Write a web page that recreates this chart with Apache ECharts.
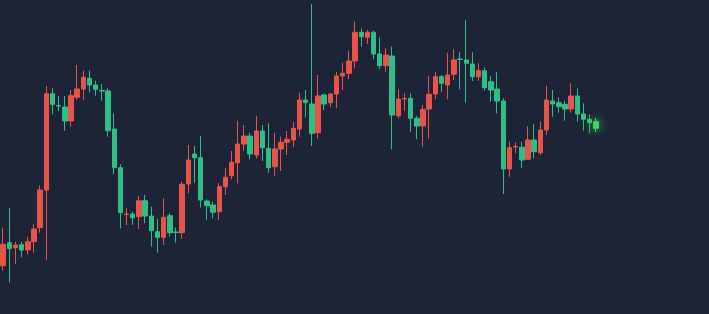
<!DOCTYPE html>
<html>
<head>
<meta charset="utf-8">
<style>
html,body{margin:0;padding:0;background:#1d2438;}
#chart{width:709px;height:314px;}
</style>
<script src="https://cdn.jsdelivr.net/npm/echarts@6/dist/echarts.min.js"></script>
</head>
<body>
<div id="chart"></div>
<script>
const categories = [1,2,3,4,5,6,7,8,9,10,11,12,13,14,15,16,17,18,19,20,21,22,23,24,25,26,27,28,29,30,31,32,33,34,35,36,37,38,39,40,41,42,43,44,45,46,47,48,49,50,51,52,53,54,55,56,57,58,59,60,61,62,63,64,65,66,67,68,69,70,71,72,73,74,75,76,77,78,79,80,81,82,83,84,85,86,87,88,89,90,91,92,93,94,95,96,97];

const openValues = [48.3,71.3,66.3,69.3,64,72.3,86.3,124,220.3,208.5,207,193,216.7,225,235.7,229,223.5,223,185,146.3,99.5,100,97.3,113.3,98,82.3,76.7,98.3,82,81.3,130,160,156.3,113,109,102.3,127.3,138.3,151.3,170,178,159,183,165.7,147.3,165,171.7,174,185,214,210,181.3,219,211.3,220,238,240.7,253,281.7,276.7,281.7,260,248.3,258,198.3,215,215.7,195.7,188,205,220,237.3,229,239.7,255,254,250,237.3,243.3,232.3,225,213,145,167,166.7,154.7,174,161.3,184,213,211.3,209.7,205,218,200,194.7,192.3];
const closeValues = [69.7,65.3,69,64,72.3,85,124,220.3,209.7,208,193,218.3,225,236.7,229,224.7,223,183.3,146.3,101.3,100,96.3,113.3,98,83.3,76.7,96.7,81.3,81.5,129.7,154,156.3,114,108.3,101.7,127.3,136.7,151.7,170,178,160,183,166.3,146.3,165,171.7,174.7,185.7,214,211.3,180.7,218,210,220,238,240.7,253,281.7,277.3,281.7,260,248.3,259,199,215,215.5,195.7,188,204.7,219.7,237.3,230.7,239,254,254.5,250.7,237.3,243.3,226.3,224,213,145,166.3,167.5,154,174,162.3,184,214,210,207.3,205,218,200,194.7,191.3,185.7];
const lowValues = [43.3,31.3,50,56.7,59.3,61.3,81.3,54,199.7,203,183,187.3,214,214,221.7,218.3,213.3,177.3,139.7,85.7,89,89,85,90.7,67.3,61.3,69,77.3,71.3,75,120.7,131.3,106.3,94,95.7,94,119,134.7,130.7,163.3,154.7,155.7,153,141.3,138.3,143,159,166.7,177.3,196.7,168,175.7,204,206.7,205.7,224,234.7,245.7,267.3,270,254.7,245,242.3,164.7,195.7,203.3,182.3,174.7,167.3,175.7,214.7,222.3,214.7,234,224.7,211.3,233,233.3,223.3,212.3,200.7,120,137.3,160.7,145.7,154.7,155.7,159,179,197.3,201.3,193.3,201.3,192.3,183.3,180.7,182];
const highValues = [86.3,106,72.3,72.3,77.3,89.7,128.7,228,225.7,218,218,224,249,243.3,243.3,233.3,230,225.7,200.7,149.7,105.7,102.3,118,119,107.3,95,115.7,100.7,86.3,132.3,169,168,178,114.7,112.3,130.7,145.7,163,193.3,189,181.3,198,189,190.7,181.3,177.3,183,192.3,221.3,224,310,239,220.7,220.7,242.3,251.3,263.3,292.3,285.7,284,283.3,276.7,265.7,267.3,224.7,220.7,220.7,198,209,238,242.3,239,261.3,264.7,262.3,294,261.7,250.7,246.7,238,241.7,215.7,172.3,171.7,172.3,188,190,192.3,228,224,216.7,213.3,230.7,225.7,210.7,199.7,196];

const upColor = '#e9544a';
const downColor = '#2fbf86';

const candleData = categories.map(function (c, i) {
  const item = { value: [openValues[i], closeValues[i], lowValues[i], highValues[i]] };
  if (i === categories.length - 1) {
    item.itemStyle = {
      color: '#3fd46a', color0: '#3fd46a',
      borderColor: '#3fd46a', borderColor0: '#3fd46a',
      shadowBlur: 10, shadowColor: 'rgba(70,230,60,0.9)'
    };
  }
  return item;
});

const chart = echarts.init(document.getElementById('chart'), null, { renderer: 'canvas' });
chart.setOption({
  backgroundColor: '#1d2438',
  animation: false,
  grid: { left: 0, top: 0, bottom: 0, width: 599 },
  xAxis: {
    type: 'category',
    data: categories,
    boundaryGap: true,
    show: false
  },
  yAxis: {
    type: 'value',
    min: 0,
    max: 314,
    show: false,
    splitLine: { show: false }
  },
  series: [{
    type: 'candlestick',
    data: candleData,
    barWidth: '80%',
    itemStyle: {
      color: upColor,
      color0: downColor,
      borderColor: upColor,
      borderColor0: downColor,
      borderWidth: 1
    }
  }]
});
</script>
</body>
</html>
